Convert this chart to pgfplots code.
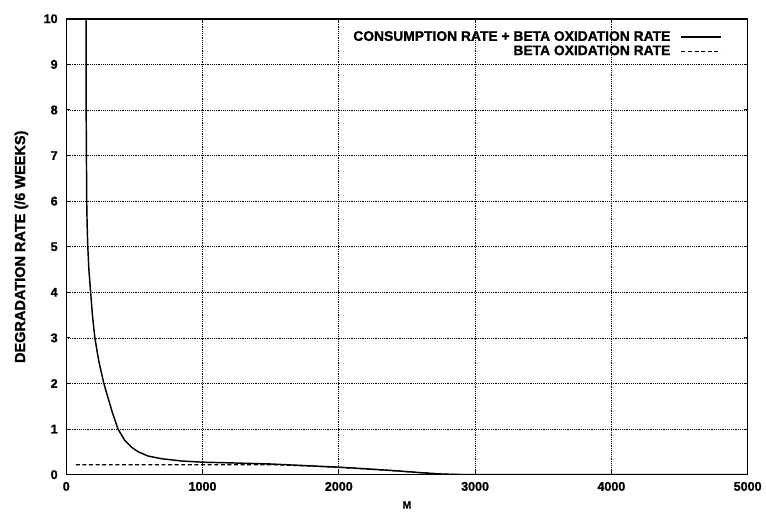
\documentclass[border=0pt]{standalone}
\usepackage{pgfplots}
\pgfplotsset{compat=1.18}
\usepackage{fontspec}
\setmainfont{Liberation Sans}
\newfontfamily\heavy[FakeBold=1.2]{Liberation Sans Bold}
\begin{document}
\begin{tikzpicture}[x=0.75pt,y=0.75pt]
\begin{axis}[name=ax,
  scale only axis, width=516.75pt, height=345.75pt,
  xmin=0, xmax=5000, ymin=0, ymax=10,
  xtick={0,1000,...,5000}, ytick={0,1,...,10},
  grid=major, grid style={black, densely dotted, line width=0.5pt},
  axis line style={black, line width=1.1pt},
  tick style={black, line width=0.8pt}, tick align=inside,
  major tick length=3pt,
  xticklabel style={font=\heavy\fontsize{9.5}{10}\selectfont, yshift=-2pt},
  yticklabel style={font=\heavy\fontsize{9.5}{10}\selectfont, xshift=-3pt},
  /pgf/number format/assume math mode=true,
  /pgf/number format/1000 sep={},
  scaled x ticks=false,
  xlabel={\heavy\fontsize{8}{9}\selectfont M},
  xlabel style={yshift=-1pt},
  ylabel={\heavy\fontsize{11}{12}\selectfont DEGRADATION RATE (/6 WEEKS)},
  ylabel style={yshift=5pt},
  legend style={draw=none, fill=none, at={(0.968,0.985)}, anchor=north east,
    font=\heavy\fontsize{10.5}{12}\selectfont, row sep=-2pt, column sep=6pt},
  legend cell align=right, legend plot pos=right,
  legend image code/.code={\draw[#1, line width=0.9pt] (0pt,0pt) -- (30pt,0pt);},
]
\addplot[black, line width=1.1pt] coordinates {
(145,10) (146,8) (148,7) (150,6) (153,5.5) (158,5) (166,4.5) (179,4) (192,3.5) (210,3) (238,2.5) (276,2) (305,1.7) (340,1.35) (380,1) (430,0.75) (480,0.6) (530,0.5) (600,0.41) (700,0.35) (850,0.3) (1000,0.275) (1200,0.26) (1500,0.235) (1750,0.2) (2000,0.165) (2200,0.13) (2400,0.09) (2600,0.045) (2750,0.015) (2900,0.003) (3100,0) (5000,0)
};
\addlegendentry{CONSUMPTION RATE + BETA OXIDATION RATE}
\addplot[black, line width=0.9pt, dash pattern=on 3pt off 2pt] coordinates {
(70,0.22) (500,0.22) (1000,0.22) (1500,0.22) (1750,0.195) (2000,0.16) (2200,0.125) (2400,0.088) (2600,0.044) (2750,0.014) (2900,0.003) (3100,0) (5000,0)
};
\addlegendentry{BETA OXIDATION RATE}
\end{axis}
\path[use as bounding box] ([xshift=-50.25pt,yshift=-23.25pt]ax.south west) rectangle ([xshift=7.5pt,yshift=14.25pt]ax.north east);
\end{tikzpicture}
\end{document}
